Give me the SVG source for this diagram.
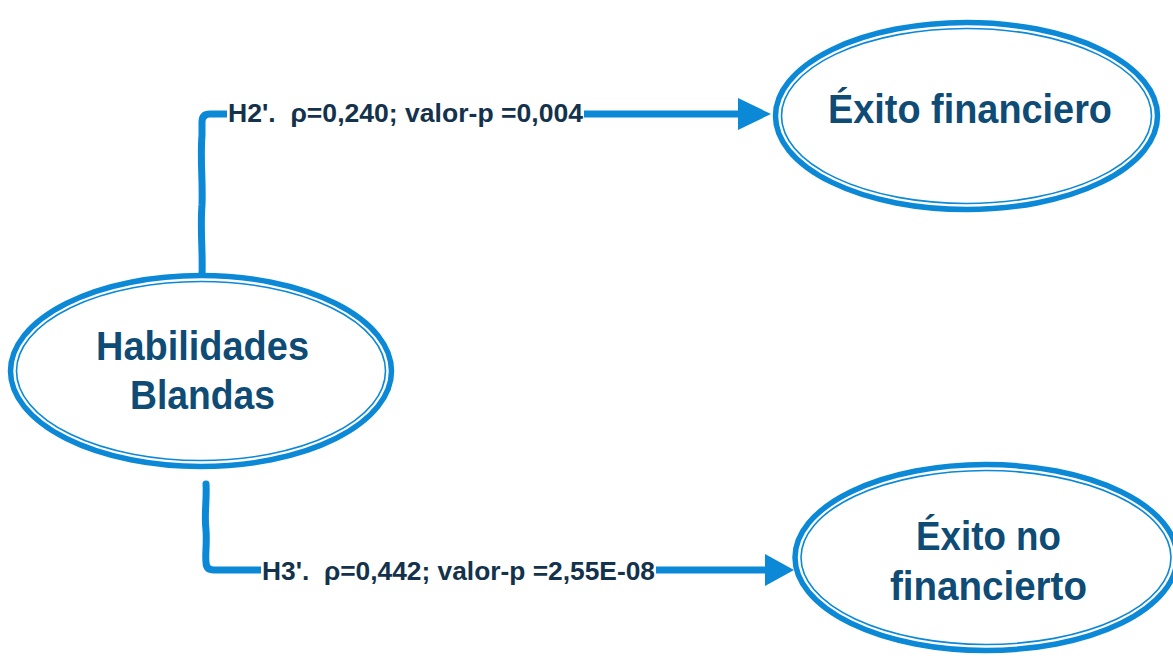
<svg xmlns="http://www.w3.org/2000/svg" width="1173" height="658" viewBox="0 0 1173 658">
  <style>
    .outer { fill: #ffffff; stroke: #0b88d6; stroke-width: 5.5; }
    .inner { fill: none; stroke: #0b88d6; stroke-width: 1.6; }
    .node-text { font-family: "Liberation Sans", Arial, sans-serif; font-weight: bold; font-size: 40px; fill: #0e4b75; text-anchor: start; }
    .wire { fill: none; stroke: #0b88d6; stroke-width: 7; stroke-linecap: round; stroke-linejoin: round; }
    .head { fill: #0b88d6; }
    .label { font-family: "Liberation Sans", Arial, sans-serif; font-weight: bold; font-size: 26px; fill: #14324b; white-space: pre; }
    .label-bg { fill: #ffffff; }
  </style>

  <g id="connectors">
    <!-- Habilidades Blandas -> Éxito financiero -->
    <path class="wire" d="M202,276 C203,250 200,230 202,205 C203,180 200,160 202,135 L202,122 Q202,114 210,114 L740,114"/>
    <polygon class="head" points="738,98 771,114 738,130"/>
    <rect class="label-bg" x="227" y="100" width="357" height="26"/>
    <text class="label" x="228" y="122" textLength="355" lengthAdjust="spacingAndGlyphs">H2'.  ρ=0,240; valor-p =0,004</text>

    <!-- Habilidades Blandas -> Éxito no financierto -->
    <path class="wire" d="M206,484 C207,500 204,515 206,530 C207,545 205,555 206,562 Q206,570 214,570 L766,570"/>
    <polygon class="head" points="765,554 794,570 765,586"/>
    <rect class="label-bg" x="261" y="557" width="395" height="26"/>
    <text class="label" x="262" y="580" textLength="393" lengthAdjust="spacingAndGlyphs">H3'.  ρ=0,442; valor-p =2,55E-08</text>
  </g>

  <g id="node-habilidades">
    <ellipse class="outer" cx="201" cy="371" rx="190.5" ry="95.5"/>
    <ellipse class="inner" cx="201" cy="371" rx="184.5" ry="89.5"/>
    <text class="node-text" x="96" y="360" textLength="213" lengthAdjust="spacingAndGlyphs">Habilidades</text>
    <text class="node-text" x="130" y="409" textLength="145" lengthAdjust="spacingAndGlyphs">Blandas</text>
  </g>

  <g id="node-exito-financiero">
    <ellipse class="outer" cx="966.5" cy="116" rx="191" ry="93.5"/>
    <ellipse class="inner" cx="966.5" cy="116" rx="185" ry="87.5"/>
    <text class="node-text" x="828" y="123" textLength="284" lengthAdjust="spacingAndGlyphs">Éxito financiero</text>
  </g>

  <g id="node-exito-no-financiero">
    <ellipse class="outer" cx="986" cy="557.5" rx="191" ry="93"/>
    <ellipse class="inner" cx="986" cy="557.5" rx="185" ry="87"/>
    <text class="node-text" x="916" y="550" textLength="145" lengthAdjust="spacingAndGlyphs">Éxito no</text>
    <text class="node-text" x="890" y="600" textLength="197" lengthAdjust="spacingAndGlyphs">financierto</text>
  </g>
</svg>
